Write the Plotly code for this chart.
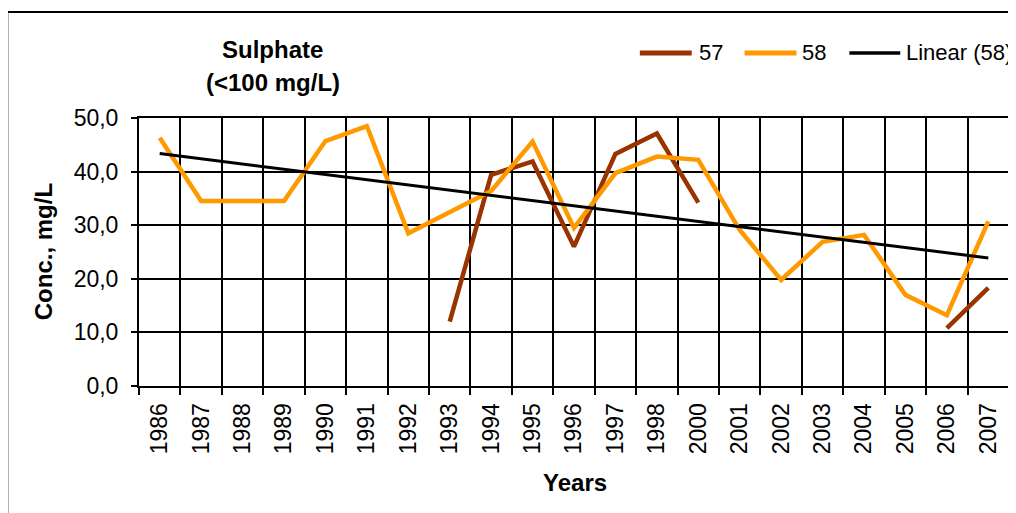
import numpy as np
import plotly.graph_objects as go

years = ["1986", "1987", "1988", "1989", "1990", "1991", "1992", "1993", "1994", "1995",
         "1996", "1997", "1998", "2000", "2001", "2002", "2003", "2004", "2005", "2006", "2007"]
s57 = [None, None, None, None, None, None, None, 12.0, 39.4, 41.9,
       26.0, 43.3, 47.1, 34.2, None, None, None, None, None, 10.8, 18.3]
s58 = [46.3, 34.5, 34.5, 34.5, 45.7, 48.5, 28.5, 32.5, 36.4, 45.6,
       29.5, 39.7, 42.8, 42.2, 29.1, 19.8, 26.9, 28.2, 17.0, 13.2, 30.7]

# Linear trend (as Excel: x = 1..n)
xi = np.arange(1, len(s58) + 1)
slope, intercept = np.polyfit(xi, np.array(s58, dtype=float), 1)
trend = list(slope * xi + intercept)

FONT = "Liberation Sans, Arial, sans-serif"
C57 = "#993300"
C58 = "#FF9900"

OFF = 8  # default page body margin
W, H = 1016 - OFF, 513 - OFF
# plot area in screen pixels: x 139..1011, y 118..386
L, R, T, B = 139, 1011, 118, 386
ML, MR, MT, MB = L - OFF, W - (R - OFF), T - OFF, H - (B - OFF)
PW, PH = R - L, B - T


def px(x):
    return (x - L) / PW


def py(y):
    return (B - y) / PH


fig = go.Figure()
fig.add_trace(go.Scatter(x=years, y=s57, mode="lines", name="57",
                         line=dict(color=C57, width=4.5), connectgaps=False))
fig.add_trace(go.Scatter(x=years, y=s58, mode="lines", name="58",
                         line=dict(color=C58, width=4.5)))
fig.add_trace(go.Scatter(x=years, y=trend, mode="lines", name="Linear (58)",
                         line=dict(color="black", width=3)))

fig.update_layout(
    width=W, height=H,
    margin=dict(l=ML, r=MR, t=MT, b=MB),
    paper_bgcolor="white", plot_bgcolor="white",
    showlegend=False,
    separators=", ",
    font=dict(family=FONT, size=23, color="black"),
)
fig.update_xaxes(
    type="category", range=[-0.5, len(years) - 0.5],
    tickson="boundaries", ticks="outside", ticklen=7, tickwidth=1.5, tickcolor="black",
    showgrid=True, gridcolor="black", gridwidth=1.5,
    showline=True, linecolor="black", linewidth=2, mirror=True,
    tickangle=-90, tickfont=dict(family=FONT, size=23, color="black"),
    ticklabelstandoff=6,
)
fig.update_yaxes(
    range=[0, 50], dtick=10, tickformat=".1f",
    ticks="outside", ticklen=6, tickwidth=1.5, tickcolor="black",
    showgrid=True, gridcolor="black", gridwidth=1.5, zeroline=False,
    showline=True, linecolor="black", linewidth=2, mirror=True,
    tickfont=dict(family=FONT, size=23, color="black"),
    ticklabelstandoff=8,
)

shapes = []
annotations = []
# outer frame
shapes.append(dict(type="rect", xref="paper", yref="paper",
                   x0=px(7), x1=px(1030), y0=py(530), y1=py(12),
                   line=dict(color="black", width=2), fillcolor="rgba(0,0,0,0)", layer="below"))

# legend
leg_y = py(53)
for (x0, x1, tx, col, lw, label) in [
    (641, 693, 698, C57, 5, "57"),
    (746, 798, 802, C58, 5, "58"),
    (851, 902, 906, "black", 3.5, "Linear (58)"),
]:
    shapes.append(dict(type="line", xref="paper", yref="paper",
                       x0=px(x0), x1=px(x1), y0=leg_y, y1=leg_y,
                       line=dict(color=col, width=lw)))
    annotations.append(dict(xref="paper", yref="paper", x=px(tx), y=leg_y,
                            xanchor="left", yanchor="middle", showarrow=False,
                            text=label, font=dict(family=FONT, size=22, color="black")))

# title
annotations.append(dict(xref="paper", yref="paper", x=px(273), y=py(50),
                        xanchor="center", yanchor="middle", showarrow=False,
                        text="<b>Sulphate</b>", font=dict(family=FONT, size=24)))
annotations.append(dict(xref="paper", yref="paper", x=px(273), y=py(83),
                        xanchor="center", yanchor="middle", showarrow=False,
                        text="<b>(&lt;100 mg/L)</b>", font=dict(family=FONT, size=24)))
# axis titles
annotations.append(dict(xref="paper", yref="paper", x=px(43), y=py(252),
                        xanchor="center", yanchor="middle", showarrow=False, textangle=-90,
                        text="<b>Conc., mg/L</b>", font=dict(family=FONT, size=24)))
annotations.append(dict(xref="paper", yref="paper", x=px(576), y=py(482),
                        xanchor="center", yanchor="middle", showarrow=False,
                        text="<b>Years</b>", font=dict(family=FONT, size=24)))

fig.update_layout(shapes=shapes, annotations=annotations)
fig.write_html("out.html")
